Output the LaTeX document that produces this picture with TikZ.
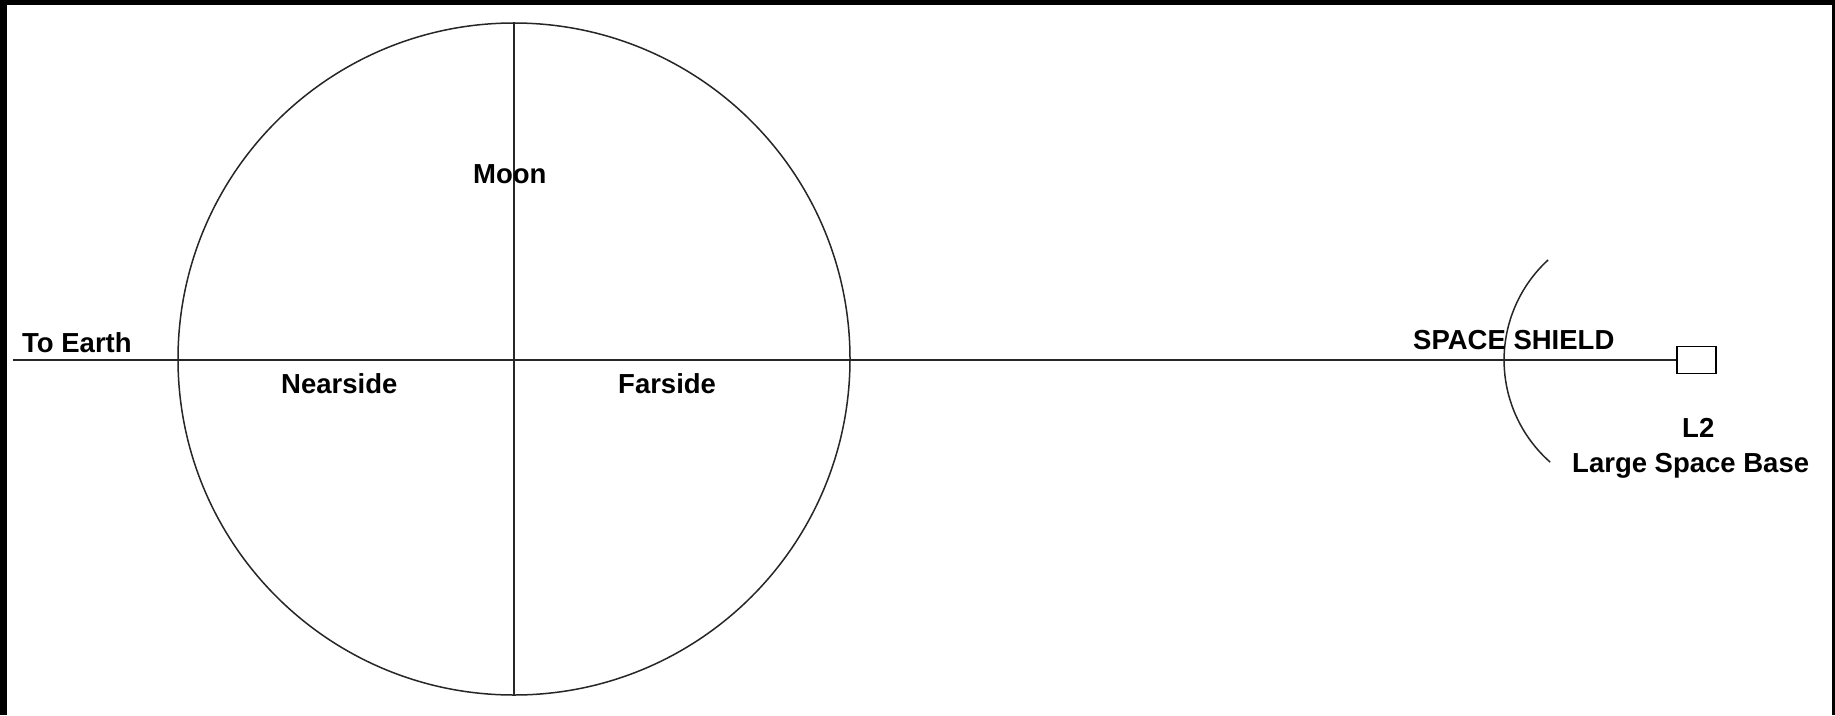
\documentclass[tikz,border=0pt]{standalone}
\usepackage{fontspec}
\setmainfont{Liberation Sans}
\begin{document}
\begin{tikzpicture}[x=1pt,y=-1pt,
  lbl/.style={anchor=base west,inner sep=0pt,font=\fontsize{27.5}{30}\selectfont\bfseries},
  thinline/.style={line width=1.5pt,black!85},
  axis/.style={line width=2pt,black!85}]
\useasboundingbox (0,0) rectangle (1835,715);
\fill[white] (0,0) rectangle (1835,715);
% black frame (top, left, right)
\fill[black] (0,0) rectangle (1835,5);
\fill[black] (0,0) rectangle (7,715);
\fill[black] (1832,0) rectangle (1835,715);
% Moon
\node[circle,draw,thinline,minimum size=672pt,inner sep=0pt] (moon) at (514,359) {};
\coordinate (start) at (13,360);
\node[draw,line width=1.5pt,minimum width=39pt,minimum height=27pt,inner sep=0pt] (base) at (1696.5,360) {};
\draw[axis] (start) -- (base.west);
\draw[axis] (moon.north) -- (moon.south);
% space shield arc
\coordinate (shieldtop) at (1548,260);
\draw[thinline] (shieldtop) arc[start angle=-132.6,end angle=-228.6,radius=136];
% labels
\node[lbl] (earth) at (22,352) {To Earth};
\node[lbl] (moonlbl) at (473,183) {Moon};
\node[lbl] (near) at (281,393) {Nearside};
\node[lbl] (far) at (618,393) {Farside};
\node[lbl] (shield) at (1413,349) {SPACE SHIELD};
\node[lbl] (l2) at (1682,437) {L2};
\node[lbl] (lsb) at (1572,472) {Large Space Base};
\end{tikzpicture}
\end{document}
